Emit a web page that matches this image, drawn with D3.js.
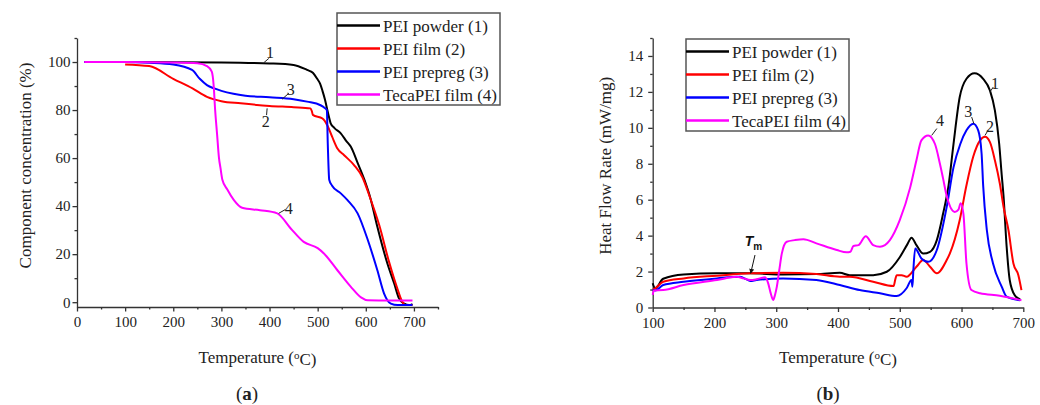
<!DOCTYPE html>
<html>
<head>
<meta charset="utf-8">
<script src="https://cdn.jsdelivr.net/npm/d3@7"></script>
<style>
  body { margin: 0; background: #fff; }
  svg text { font-family: "Liberation Serif", "Times New Roman", serif; fill: #222; }
</style>
</head>
<body>
<div id="chart"></div>
<script>
// ---- data: (a) TGA, temperature (°C) vs component concentration (%)
const seriesNames = ["PEI powder (1)", "PEI film (2)", "PEI prepreg (3)", "TecaPEI film (4)"];
const seriesColors = ["#000000", "#ff0000", "#0000ff", "#ff00ff"];

const tgaPowderT = [15, 100, 200, 300, 400, 450, 478, 490, 499, 505, 510, 515, 519, 523, 527, 535, 548, 560, 569, 583, 597, 610, 624, 645, 659, 669, 680, 690, 697];
const tgaPowderW = [100, 100, 99.9, 99.8, 99.4, 98.8, 96.7, 95.5, 93, 91, 88, 84.5, 81, 77.5, 74.5, 72.5, 70.3, 67, 64.7, 58, 51, 43, 31.4, 16, 7.8, 1.6, -0.6, -1.2, -0.8];

const tgaFilmT = [100, 150, 200, 240, 270, 300, 340, 400, 450, 485, 488, 490, 510, 520, 530, 541, 555, 576, 593, 608, 628, 648, 665, 675, 682, 697];
const tgaFilmW = [99, 98.3, 93, 89, 85.5, 83.7, 82.8, 81.7, 81.2, 80.7, 79.5, 78, 76.5, 73.7, 68.9, 64, 61.2, 57, 52, 44, 32, 17, 6, 0.5, -1.2, -1.2];

const tgaPrepregT = [15, 100, 150, 200, 239, 255, 270, 285, 300, 325, 350, 400, 450, 478, 506, 514, 519, 521, 524, 530, 548, 562, 583, 604, 624, 638, 652, 666, 697];
const tgaPrepregW = [100, 100, 99.7, 99, 96.7, 93, 90.4, 89, 88, 86.8, 86, 85.3, 84.5, 83.5, 82, 81, 80, 66, 51, 48.5, 45.3, 42.5, 37, 26, 13.3, 3.6, -0.6, -1.2, -1.2];

const tgaTecaT = [15, 100, 200, 250, 270, 280, 284, 287, 291, 295, 298, 302, 312, 326, 343, 380, 416, 444, 471, 500, 513, 541, 569, 590, 604, 650, 697];
const tgaTecaW = [100, 100, 99.8, 99.5, 98.3, 96, 90, 80, 70, 60, 56, 51, 47, 42.5, 39.3, 38.3, 37, 30.7, 25.1, 22.5, 20.3, 13.3, 6.4, 2, 0.8, 0.7, 0.7];

// curve number labels for (a): [text, labelT, labelW, leaderFromT, leaderFromW, leaderToT, leaderToW]
const tgaLabels = [
  ["1", 401, 104, 388, 99.7, 398.5, 101.5],
  ["2", 392, 75.4, 395, 80.7, 393.8, 77.9],
  ["3", 444, 88.6, 426, 84.5, 440, 87],
  ["4", 440, 39, 419, 37, 433, 38.6]
];

// ---- data: (b) DSC, temperature (°C) vs heat flow rate (mW/mg)
const dscPowderT = [100, 104, 117, 150, 204, 258, 311, 365, 403, 419, 457, 479, 500, 512, 519, 527, 538, 549, 560, 570, 579, 587, 597, 608, 621, 635, 646, 654, 661, 665, 668, 673, 678, 686, 695];
const dscPowderQ = [1.35, 1.07, 1.6, 1.84, 1.9, 1.9, 1.84, 1.86, 1.93, 1.8, 1.8, 1.99, 2.8, 3.5, 3.88, 3.47, 3.0, 3.1, 3.75, 5.2, 6.8, 9.1, 11.7, 12.73, 13.04, 12.73, 12.08, 10.97, 9.1, 7.4, 6.2, 3.4, 1.53, 0.69, 0.45];

const dscFilmT = [100, 104, 117, 150, 204, 258, 311, 365, 403, 419, 457, 490, 493, 495, 503, 511, 527, 538, 549, 560, 576, 581, 597, 608, 619, 630, 638, 646, 654, 662, 668, 676, 684, 692, 697];
const dscFilmQ = [1.0, 1.07, 1.43, 1.62, 1.77, 1.9, 1.93, 1.86, 1.71, 1.71, 1.43, 1.19, 1.6, 1.8, 1.8, 1.71, 2.27, 2.64, 2.27, 1.9, 2.64, 3.0, 4.86, 6.8, 8.4, 9.3, 9.5, 9.2, 8.2, 6.9, 5.6, 4.3, 2.45, 1.8, 0.97];

const dscPrepregT = [100, 104, 117, 150, 204, 241, 250, 258, 268, 311, 365, 403, 435, 468, 495, 511, 519, 520.5, 522, 525, 535, 546, 560, 576, 587, 598, 608, 619, 627, 632.5, 635, 641, 651, 665, 673, 695];
const dscPrepregQ = [0.97, 0.95, 1.25, 1.43, 1.62, 1.71, 1.6, 1.47, 1.53, 1.62, 1.53, 1.25, 0.97, 0.79, 0.64, 1.07, 1.53, 1.16, 2.08, 3.29, 2.73, 2.54, 3.2, 5.6, 7.8, 9.1, 9.86, 10.23, 9.86, 8.56, 6.8, 4.3, 2.45, 1.16, 0.6, 0.4];

const dscTecaT = [100, 102, 117, 150, 204, 236, 247, 258, 268, 282, 287, 291, 295, 298, 301, 305, 309, 317, 330, 344, 365, 398, 414, 420, 425, 433, 445, 457, 468, 484, 500, 517, 527, 535, 546, 557, 565, 570, 576, 589, 595, 598.6, 603, 608, 616, 630, 662, 697];
const dscTecaQ = [0.7, 0.95, 0.97, 1.25, 1.53, 1.71, 1.62, 1.53, 1.57, 1.68, 1.34, 0.8, 0.42, 0.7, 1.16, 2.1, 3.0, 3.66, 3.75, 3.8, 3.57, 3.2, 3.07, 3.1, 3.42, 3.47, 3.97, 3.47, 3.38, 3.75, 4.86, 6.7, 8.2, 9.3, 9.58, 9.1, 8.0, 7.2, 6.2, 5.32, 5.45, 5.8, 5.23, 2.45, 0.97, 0.79, 0.66, 0.4];

const dscLabels = [
  ["1", 654, 12.5, 646, 12.0, 651.4, 12.27],
  ["2", 646, 10.1, 643, 9.86, 638, 9.58],
  ["3", 611, 10.9, 616.4, 10.6, 620, 10.23],
  ["4", 565, 10.4, 560, 9.96, 551.7, 9.58]
];

// melting point marker on (b): text position and arrow (from -> to)
const tmMark = {textT: 263, textQ: 3.45, fromT: 265.6, fromQ: 2.92, toT: 258.6, toQ: 1.9};

const zip = (xs, ys) => xs.map((x, i) => [x, ys[i]]);

const tgaSeries = [
  zip(tgaPowderT, tgaPowderW),
  zip(tgaFilmT, tgaFilmW),
  zip(tgaPrepregT, tgaPrepregW),
  zip(tgaTecaT, tgaTecaW)
];
const dscSeries = [
  zip(dscPowderT, dscPowderQ),
  zip(dscFilmT, dscFilmQ),
  zip(dscPrepregT, dscPrepregQ),
  zip(dscTecaT, dscTecaQ)
];

const width = 1040, height = 405;

const svg = d3.select("#chart").append("svg")
  .attr("width", width)
  .attr("height", height);

// draws one panel
function panel(opt) {
  const x = d3.scaleLinear().domain(opt.xDomain).range([opt.left, opt.right]);
  const y = d3.scaleLinear().domain(opt.yDomain).range([opt.bottom, opt.top]);
  const g = svg.append("g");

  // minor ticks
  g.append("g")
    .attr("transform", `translate(0,${opt.bottom})`)
    .call(d3.axisBottom(x).tickValues(opt.xMinor).tickSize(2.5).tickFormat(""))
    .call(s => s.select(".domain").remove());
  g.append("g")
    .attr("transform", `translate(${opt.left},0)`)
    .call(d3.axisLeft(y).tickValues(opt.yMinor).tickSize(2.5).tickFormat(""))
    .call(s => s.select(".domain").remove());

  // major ticks + labels
  const xAxis = g.append("g")
    .attr("transform", `translate(0,${opt.bottom})`)
    .call(d3.axisBottom(x).tickValues(opt.xTicks).tickSize(4.5).tickSizeOuter(0).tickPadding(5));
  const yAxis = g.append("g")
    .attr("transform", `translate(${opt.left},0)`)
    .call(d3.axisLeft(y).tickValues(opt.yTicks).tickSize(4.5).tickSizeOuter(0).tickPadding(opt.yPad));

  [xAxis, yAxis].forEach(a => {
    a.selectAll("text").style("font-size", "15px").style("fill", "#222")
      .style("font-family", "'Liberation Serif', serif");
  });
  g.selectAll(".domain, .tick line").attr("stroke", "#333").attr("stroke-width", 1.3);

  // curves
  const line = d3.line()
    .x(d => x(d[0]))
    .y(d => y(d[1]))
    .curve(d3.curveMonotoneX);

  g.selectAll("path.curve")
    .data(opt.series)
    .enter()
    .append("path")
    .attr("class", "curve")
    .attr("fill", "none")
    .attr("stroke", (d, i) => seriesColors[i])
    .attr("stroke-width", 2)
    .attr("stroke-linejoin", "round")
    .attr("d", line);

  // curve number labels
  opt.labels.forEach(l => {
    g.append("line")
      .attr("x1", x(l[3])).attr("y1", y(l[4]))
      .attr("x2", x(l[5])).attr("y2", y(l[6]))
      .attr("stroke", "#222").attr("stroke-width", 1);
    g.append("text")
      .attr("x", x(l[1])).attr("y", y(l[2]))
      .attr("text-anchor", "middle")
      .attr("dy", "0.35em")
      .style("font-size", "16px")
      .text(l[0]);
  });

  // axis titles
  const xt = g.append("text")
    .attr("x", (opt.left + opt.right) / 2)
    .attr("y", 363)
    .attr("text-anchor", "middle")
    .style("font-size", "17px");
  xt.append("tspan").text("Temperature (");
  xt.append("tspan").attr("dy", "-0.4em").style("font-size", "11px").text("o");
  xt.append("tspan").attr("dy", "0.4em").text("C)");

  g.append("text")
    .attr("transform", `translate(${opt.yTitleX},${(opt.top + opt.bottom) / 2 - 7}) rotate(-90)`)
    .attr("text-anchor", "middle")
    .style("font-size", "17px")
    .text(opt.yTitle);

  // panel letter
  const pl = g.append("text")
    .attr("x", opt.letterX)
    .attr("y", 400)
    .attr("text-anchor", "middle")
    .style("font-size", "19px");
  pl.append("tspan").text("(");
  pl.append("tspan").style("font-weight", "bold").text(opt.letter);
  pl.append("tspan").text(")");

  // legend
  const lg = g.append("g").attr("transform", `translate(${opt.legX},${opt.legY})`);
  const box = lg.append("rect")
    .attr("height", 92)
    .attr("fill", "#fff")
    .attr("stroke", "#555").attr("stroke-width", 1.5);
  let maxLen = 0;
  seriesNames.forEach((name, i) => {
    const ry = 12.5 + i * 23;
    lg.append("line")
      .attr("x1", 0).attr("x2", 43)
      .attr("y1", ry).attr("y2", ry)
      .attr("stroke", seriesColors[i]).attr("stroke-width", 2.5);
    const t = lg.append("text")
      .attr("x", 46).attr("y", ry + 6)
      .style("font-size", "17px")
      .text(name);
    maxLen = Math.max(maxLen, t.node().getComputedTextLength());
  });
  box.attr("width", Math.max(opt.legW, 46 + maxLen + 3));

  return {x, y, g};
}

panel({
  xDomain: [0, 750], yDomain: [-2, 110],
  left: 77, right: 438, top: 38, bottom: 307,
  xTicks: d3.range(0, 701, 100), xMinor: d3.range(50, 751, 100),
  yTicks: d3.range(0, 101, 20), yMinor: d3.range(10, 111, 20),
  yPad: 2,
  series: tgaSeries, labels: tgaLabels,
  yTitle: "Component concentration (%)", yTitleX: 31,
  letter: "a", letterX: 247,
  legX: 337, legY: 13, legW: 156
});

const b = panel({
  xDomain: [100, 700], yDomain: [0, 15],
  left: 652.7, right: 1023.3, top: 38, bottom: 307.5,
  xTicks: d3.range(100, 701, 100), xMinor: d3.range(150, 701, 100),
  yTicks: d3.range(0, 15, 2), yMinor: d3.range(1, 16, 2),
  yPad: 5,
  series: dscSeries, labels: dscLabels,
  yTitle: "Heat Flow Rate (mW/mg)", yTitleX: 611,
  letter: "b", letterX: 828,
  legX: 686, legY: 39, legW: 161
});

// T_m marker with arrow
b.g.append("defs").append("marker")
  .attr("id", "arrow")
  .attr("viewBox", "0 0 10 10")
  .attr("refX", 9).attr("refY", 5)
  .attr("markerWidth", 5).attr("markerHeight", 5)
  .attr("orient", "auto")
  .append("path").attr("d", "M0,0 L10,5 L0,10 Z").attr("fill", "#111");

b.g.append("line")
  .attr("x1", b.x(tmMark.fromT)).attr("y1", b.y(tmMark.fromQ))
  .attr("x2", b.x(tmMark.toT)).attr("y2", b.y(tmMark.toQ))
  .attr("stroke", "#111").attr("stroke-width", 1)
  .attr("marker-end", "url(#arrow)");

const tm = b.g.append("text")
  .attr("x", b.x(tmMark.textT)).attr("y", b.y(tmMark.textQ))
  .attr("text-anchor", "middle")
  .style("font-family", "'Liberation Sans', Arial, sans-serif")
  .style("fill", "#111");
tm.append("tspan").style("font-size", "14px").style("font-weight", "bold").style("font-style", "italic").text("T");
tm.append("tspan").attr("dy", "4").style("font-size", "10px").style("font-weight", "bold").text("m");
</script>
</body>
</html>
